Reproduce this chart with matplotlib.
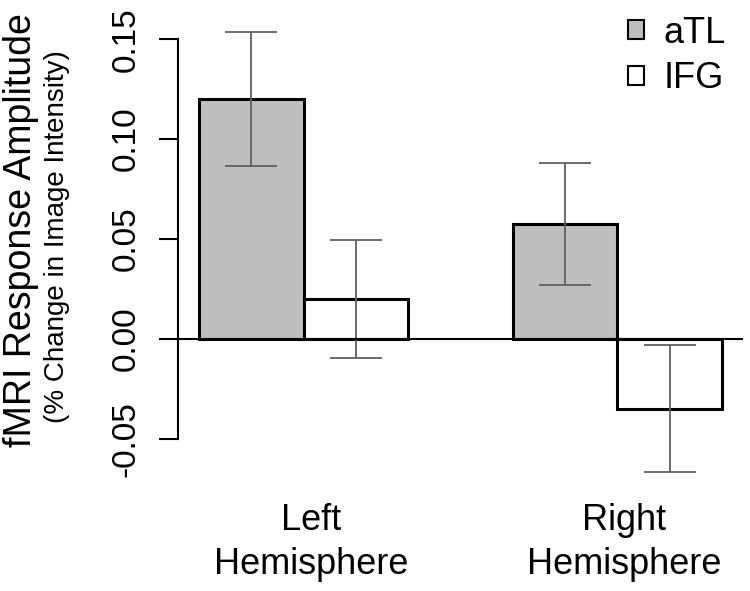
import numpy as np
import matplotlib.pyplot as plt
from matplotlib.patches import Patch

plt.rcParams['font.family'] = ['Liberation Sans', 'DejaVu Sans']

# --- data ---
hemispheres = ['Left\nHemisphere', 'Right\nHemisphere']
regions = ['aTL', 'IFG']
atl_mean = [0.120, 0.0575]
atl_err = [0.0335, 0.0305]
ifg_mean = [0.020, -0.0348]
ifg_err = [0.0295, 0.0318]
y_ticks = [-0.05, 0.00, 0.05, 0.10, 0.15]

fill = ['#bebebe', 'white']
err_color = '#606060'

fig = plt.figure(figsize=(7.5, 5.91), dpi=100)
ax = fig.add_axes([0.2373, 0.159, 0.7534, 0.839])

# R-style beside barplot: width 1, one bar gap between groups
group_left = np.array([1.0, 4.0])
means = [atl_mean, ifg_mean]
errs = [atl_err, ifg_err]
for k in range(2):
    x = group_left + k + 0.5
    ax.bar(x, means[k], width=1.0, color=fill[k], edgecolor='black',
           linewidth=2.2, zorder=2)
    ax.errorbar(x, means[k], yerr=errs[k], fmt='none', ecolor=err_color,
                elinewidth=1.3, capsize=19, capthick=1.3, zorder=3)

ax.axhline(0, color='black', linewidth=1.5, zorder=4)

ax.set_xlim(0.8, 6.2)
ax.set_ylim(-0.079, 0.169)

for s in ['top', 'right', 'bottom']:
    ax.spines[s].set_visible(False)
ax.spines['left'].set_bounds(y_ticks[0], y_ticks[-1])
ax.spines['left'].set_linewidth(1.5)

ax.set_yticks(y_ticks)
ax.set_yticklabels([f'{v:.2f}' for v in y_ticks], rotation=90, va='center')
ax.tick_params(axis='y', length=14, width=1.5, pad=12, labelsize=24)

ax.set_xticks([2.07, 5.06])
ax.set_xticklabels(hemispheres, fontsize=26, linespacing=1.35)
ax.tick_params(axis='x', length=0, pad=4)

fig.text(0.028, 0.61, 'fMRI Response Amplitude', rotation=90,
         ha='center', va='center', fontsize=27)
fig.text(0.076, 0.60, '(% Change in Image Intensity)', rotation=90,
         ha='center', va='center', fontsize=20)

handles = [Patch(facecolor=fill[k], edgecolor='black', linewidth=1.5)
           for k in range(2)]
ax.legend(handles, regions, loc='upper right', frameon=False, fontsize=26,
          handlelength=0.42, handleheight=0.42, handletextpad=0.55,
          labelspacing=0.3, borderaxespad=0.0, bbox_to_anchor=(0.995, 1.0))

fig.savefig('out.png', dpi=100)
